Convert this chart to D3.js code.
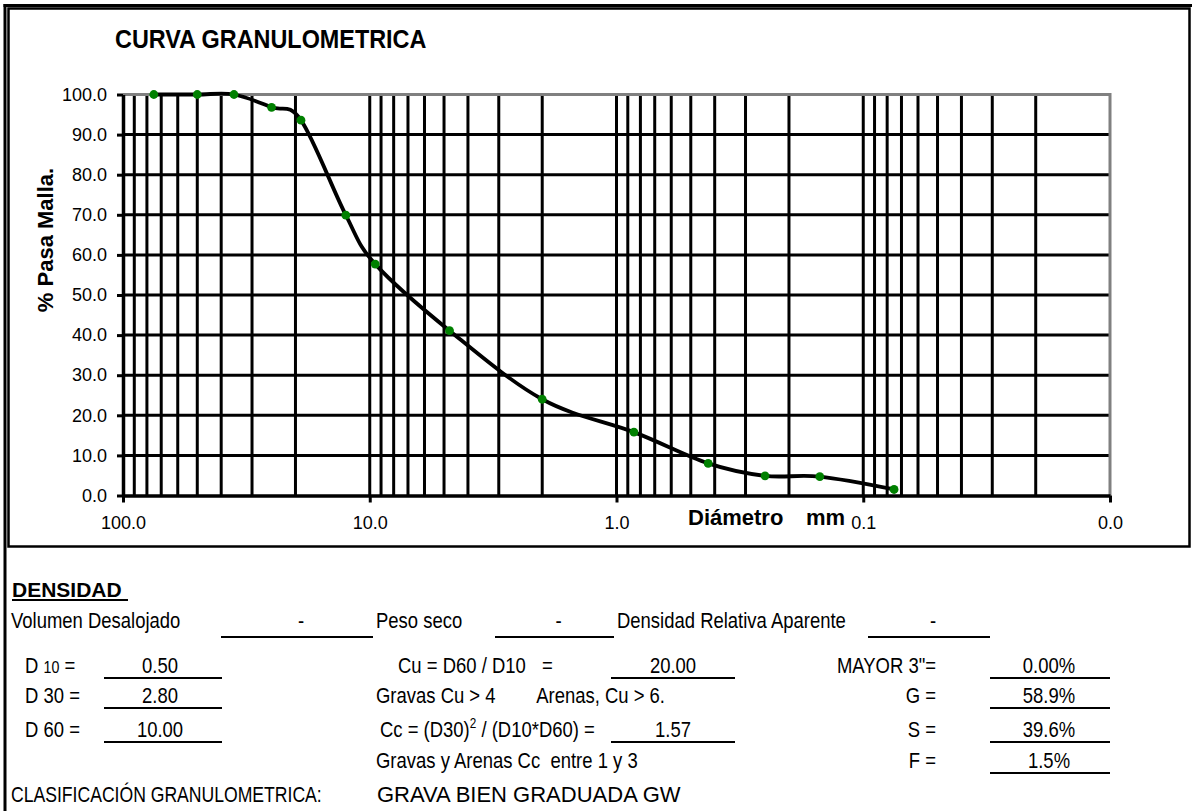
<!DOCTYPE html>
<html>
<head>
<meta charset="utf-8">
<script src="https://cdn.jsdelivr.net/npm/d3@7"></script>
<style>
  body { margin: 0; background: #fff; }
  text { font-family: "Liberation Sans", Arial, sans-serif; fill: #000; white-space: pre; }
</style>
</head>
<body>
<svg id="chart" width="1194" height="811"></svg>
<script>
// curva granulometrica: abertura de malla (mm) y % que pasa
const diametros = [75, 50, 35.5, 25, 19, 12.5, 9.5, 4.75, 2.0, 0.85, 0.425, 0.25, 0.15, 0.075];
const pasa = [100, 100, 100, 96.8, 93.6, 69.9, 57.7, 41.1, 24.0, 15.8, 8.0, 4.9, 4.7, 1.5];
const xTicks = [100, 10, 1, 0.1, 0.01];
const xTickLabels = ["100.0", "10.0", "1.0", "0.1", "0.0"];
const yTicks = [0, 10, 20, 30, 40, 50, 60, 70, 80, 90, 100];

// tabla inferior
const densidadLabels = ["Volumen Desalojado", "Peso seco", "Densidad Relativa Aparente"];
const densidadValues = ["-", "-", "-"];
const dLabels = ["10", "30", "60"];
const dValues = ["0.50", "2.80", "10.00"];
const coefValues = ["20.00", "1.57"];
const fracLabels = ['MAYOR 3"=', "G =", "S =", "F ="];
const fracValues = ["0.00%", "58.9%", "39.6%", "1.5%"];
const clasificacion = "GRAVA BIEN GRADUADA GW";

const svg = d3.select("#chart");
const NARROW = 0.84;

function txt(g, x, y, s, o = {}) {
  return g.append("text")
    .attr("transform", `translate(${x},${y}) scale(${o.sx || 1},1)`)
    .attr("font-size", o.size || 22)
    .attr("font-weight", o.bold ? "bold" : null)
    .attr("text-anchor", o.anchor || "start")
    .text(s);
}
function hline(g, x1, x2, y, w = 2) {
  g.append("line").attr("x1", x1).attr("x2", x2).attr("y1", y).attr("y2", y)
    .attr("stroke", "#000").attr("stroke-width", w);
}

// marcos
hline(svg, 3.5, 1192, 5.5, 3);
svg.append("line").attr("x1", 5).attr("x2", 5).attr("y1", 4).attr("y2", 811)
  .attr("stroke", "#000").attr("stroke-width", 3);
svg.append("rect").attr("x", 8.5).attr("y", 8.5).attr("width", 1181).attr("height", 538)
  .attr("fill", "none").attr("stroke", "#000").attr("stroke-width", 2.5);

// escalas
const x = d3.scaleLog().domain([100, 0.01]).range([123, 1110]);
const y = d3.scaleLinear().domain([0, 100]).range([495.5, 94.5]);

const chart = svg.append("g");

// grilla
chart.append("g").selectAll("line")
  .data(yTicks.filter(d => d > 0 && d < 100))
  .join("line")
  .attr("x1", x(100)).attr("x2", x(0.01))
  .attr("y1", d => y(d)).attr("y2", d => y(d))
  .attr("stroke", "#000").attr("stroke-width", 3);

chart.append("g").selectAll("line")
  .data(x.ticks().filter(d => d < 99.9 && d > 0.0101))
  .join("line")
  .attr("x1", d => x(d)).attr("x2", d => x(d))
  .attr("y1", y(100)).attr("y2", y(0))
  .attr("stroke", "#000").attr("stroke-width", 3);

// borde gris del area de trazado
chart.append("path")
  .attr("d", `M${x(100)},${y(100)}H${x(0.01)}V${y(0)}`)
  .attr("fill", "none").attr("stroke", "#808080").attr("stroke-width", 3);

// ejes
const yAxis = chart.append("g")
  .attr("transform", `translate(${x(100)},0)`)
  .call(d3.axisLeft(y).tickValues(yTicks).tickSize(6).tickSizeOuter(0).tickPadding(10)
    .tickFormat(d3.format(".1f")));
const xAxis = chart.append("g")
  .attr("transform", `translate(0,${y(0)})`)
  .call(d3.axisBottom(x).tickValues(xTicks).tickSize(7).tickSizeOuter(0).tickPadding(14)
    .tickFormat((d, i) => xTickLabels[i]));

[yAxis, xAxis].forEach(a => {
  a.select(".domain").attr("stroke-width", 3.5);
  a.selectAll(".tick line").attr("stroke-width", 3);
  a.selectAll(".tick text").attr("font-size", 18)
    .attr("font-family", '"Liberation Sans", Arial, sans-serif').attr("fill", "#000");
});

// curva suavizada
const pts = diametros.map((d, i) => [x(d), y(pasa[i])]);
chart.append("path")
  .datum(pts)
  .attr("d", d3.line().curve(d3.curveCardinal.tension(0)))
  .attr("fill", "none").attr("stroke", "#000").attr("stroke-width", 3.8);

chart.append("g").selectAll("circle")
  .data(pts)
  .join("circle")
  .attr("cx", d => d[0]).attr("cy", d => d[1]).attr("r", 4.4)
  .attr("fill", "#008000");

// titulos
txt(svg, 115, 48, "CURVA GRANULOMETRICA", { size: 26, bold: true, sx: 0.9 });
svg.append("text")
  .attr("transform", "translate(53,240) rotate(-90)")
  .attr("text-anchor", "middle").attr("font-size", 22).attr("font-weight", "bold")
  .text("% Pasa Malla.");
txt(svg, 688, 525, "Diámetro", { size: 22, bold: true });
txt(svg, 806, 525, "mm", { size: 22, bold: true });

// tabla
const tb = svg.append("g");
txt(tb, 12, 597, "DENSIDAD", { size: 21, bold: true });
hline(tb, 12, 128, 600, 2);

const rowDens = 628;
const densX = [11, 376, 617];
const densLine = [[221, 373], [495, 614], [868, 990]];
densidadLabels.forEach((s, i) => {
  txt(tb, densX[i], rowDens, s, { sx: NARROW });
  hline(tb, densLine[i][0], densLine[i][1], rowDens + 9);
  txt(tb, (densLine[i][0] + densLine[i][1]) / 2 + 4, rowDens, densidadValues[i], { sx: NARROW, anchor: "middle" });
});

const rows = [673, 703, 737, 768];
const under = [678, 708, 742, 773];
dLabels.forEach((s, i) => {
  const t = tb.append("text")
    .attr("transform", `translate(25,${rows[i]}) scale(${NARROW},1)`)
    .attr("font-size", 22);
  t.append("tspan").text("D ");
  t.append("tspan").attr("font-size", i === 0 ? 17 : 22).text(s);
  t.append("tspan").attr("font-size", 22).text(" =");
  txt(tb, 160, rows[i], dValues[i], { sx: NARROW, anchor: "middle" });
  hline(tb, 104, 222, under[i]);
});

// coeficientes
txt(tb, 398, rows[0], "Cu = D60 / D10", { sx: NARROW });
txt(tb, 542, rows[0], "=", { sx: NARROW });
txt(tb, 376, rows[1], "Gravas Cu > 4", { sx: NARROW });
txt(tb, 665, rows[1], "Arenas, Cu > 6.", { sx: NARROW, anchor: "end" });
const cc = tb.append("text")
  .attr("transform", `translate(380,${rows[2]}) scale(${NARROW},1)`)
  .attr("font-size", 22);
cc.append("tspan").text("Cc = (D30)");
cc.append("tspan").attr("font-size", 14).attr("dy", -9).text("2");
cc.append("tspan").attr("dy", 9).text(" / (D10*D60) =");
txt(tb, 376, rows[3], "Gravas y Arenas Cc  entre 1 y 3", { sx: NARROW });
[0, 2].forEach((r, i) => {
  txt(tb, 673, rows[r], coefValues[i], { sx: NARROW, anchor: "middle" });
  hline(tb, 611, 735, under[r]);
});

// fracciones
fracLabels.forEach((s, i) => {
  txt(tb, 936, rows[i], s, { sx: NARROW, anchor: "end" });
  txt(tb, 1049, rows[i], fracValues[i], { sx: NARROW, anchor: "middle" });
  hline(tb, 990, 1110, under[i]);
});

txt(tb, 11, 802, "CLASIFICACIÓN GRANULOMETRICA:", { sx: 0.8 });
txt(tb, 377, 802, clasificacion, { size: 22 });
</script>
</body>
</html>
